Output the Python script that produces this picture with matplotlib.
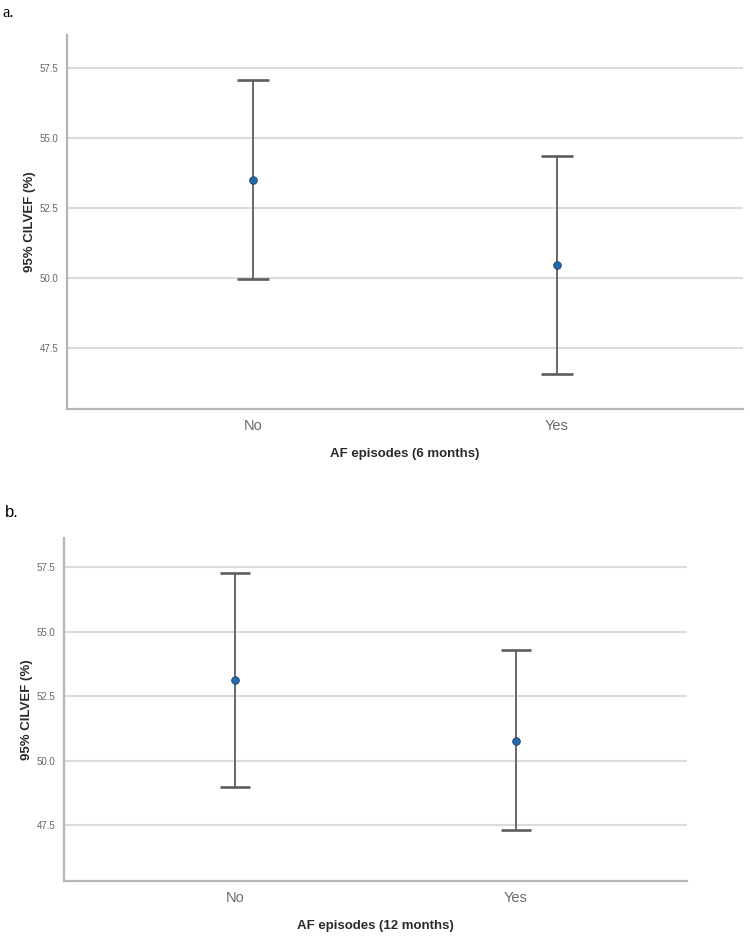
import matplotlib
matplotlib.use('Agg')
import matplotlib.pyplot as plt
import numpy as np

plt.rcParams['font.family'] = ['Liberation Sans', 'DejaVu Sans']

categories = ['No', 'Yes']
yticks = [47.5, 50.0, 52.5, 55.0, 57.5]

# panel a: 6 months
mean_6m = [53.50, 50.46]
lower_6m = [49.96, 46.57]
upper_6m = [57.07, 54.36]

# panel b: 12 months
mean_12m = [53.14, 50.78]
lower_12m = [49.00, 47.32]
upper_12m = [57.29, 54.30]

fig = plt.figure(figsize=(7.5, 9.38), dpi=100)

def panel(rect, mean, lower, upper, ylim, xlabel, capsize):
    ax = fig.add_axes(rect)
    x = np.arange(len(categories))
    mean = np.array(mean)
    err = [mean - np.array(lower), np.array(upper) - mean]
    ax.errorbar(x, mean, yerr=err, fmt='none', ecolor='#5e5e5e', elinewidth=1.3,
                capsize=capsize, capthick=1.9, zorder=3)
    ax.plot(x, mean, 'o', color='#1f6db3', markeredgecolor='#2b3a4a',
            markeredgewidth=0.6, markersize=5.5, zorder=4)
    ax.set_xlim(-0.611, 1.611)
    ax.set_ylim(*ylim)
    ax.set_yticks(yticks)
    ax.set_yticklabels(['%.1f' % t for t in yticks])
    ax.set_xticks(x)
    ax.set_xticklabels(categories)
    ax.yaxis.grid(True, color='#dcdcdc', linewidth=1.5)
    ax.set_axisbelow(True)
    for s in ['top', 'right']:
        ax.spines[s].set_visible(False)
    for s in ['left', 'bottom']:
        ax.spines[s].set_color('#b5b5b5')
        ax.spines[s].set_linewidth(1.6)
    ax.tick_params(axis='y', length=0, labelsize=7, labelcolor='#666666', pad=6)
    ax.tick_params(axis='x', length=0, labelsize=10.5, labelcolor='#6a6a6a', pad=7)
    ax.set_xlabel(xlabel, fontsize=9.5, fontweight='bold', color='#2a2a2a', labelpad=11)
    ax.set_ylabel('95% CILVEF (%)', fontsize=9.5, fontweight='bold', color='#2a2a2a', labelpad=3)
    return ax

panel([0.0893, 0.564, 0.901, 0.3987], mean_6m, lower_6m, upper_6m,
      (45.32, 58.68), 'AF episodes (6 months)', 11.5)
panel([0.0853, 0.0608, 0.8307, 0.3657], mean_12m, lower_12m, upper_12m,
      (45.35, 58.64), 'AF episodes (12 months)', 10.8)

fig.text(0.003, 0.995, 'a.', family='Liberation Serif', fontsize=12, va='top', ha='left')
fig.text(0.006, 0.462, 'b.', fontsize=12, va='top', ha='left')

fig.savefig('out.png', dpi=100)
